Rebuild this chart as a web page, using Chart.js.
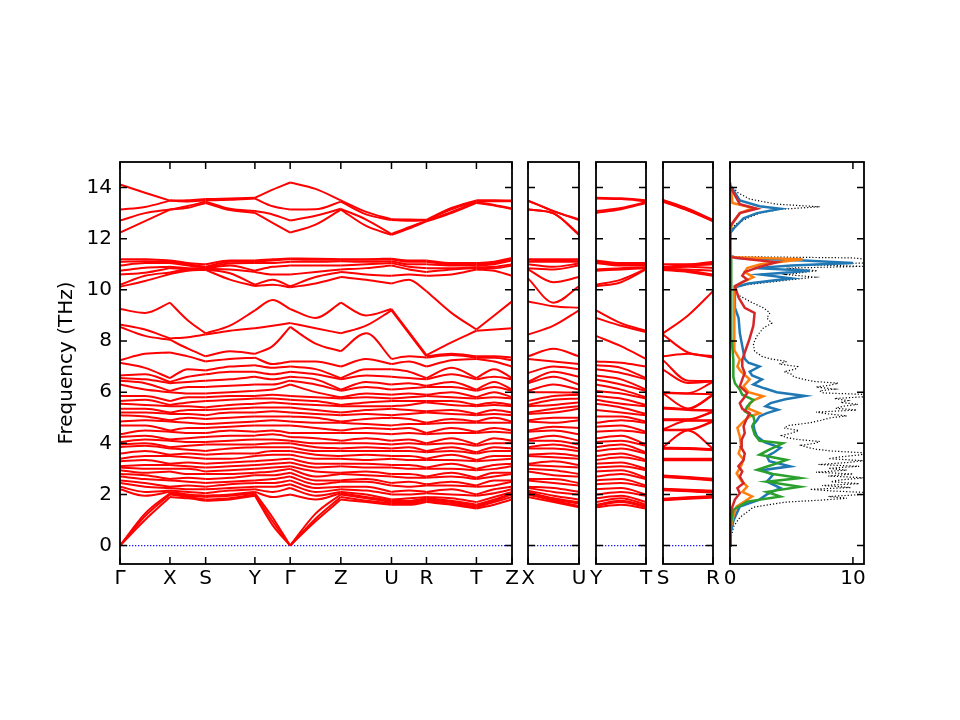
<!DOCTYPE html>
<html lang="en">
<head>
<meta charset="UTF-8">
<title>Phonon bands and DOS</title>
<style>
  body { margin: 0; background: #fff; }
  #wrap { position: relative; width: 960px; height: 720px; }
  #wrap canvas { position: absolute; left: 0; top: 0; }
</style>
</head>
<body>
<div id="wrap">
  <canvas id="main" width="960" height="720"></canvas>
  <canvas id="xu" width="960" height="720"></canvas>
  <canvas id="yt" width="960" height="720"></canvas>
  <canvas id="sr" width="960" height="720"></canvas>
  <canvas id="dos" width="960" height="720"></canvas>
</div>
<script src="https://cdn.jsdelivr.net/npm/chart.js"></script>
<script>
// ---- data ----
const freqTicks = [0, 2, 4, 6, 8, 10, 12, 14];

// main path: Γ-X-S-Y-Γ-Z-U-R-T-Z
const mainLabels = ['Γ', 'X', 'S', 'Y', 'Γ', 'Z', 'U', 'R', 'T', 'Z'];
const mainLabelPos = [0, 0.5, 0.857, 1.35, 1.703, 2.21, 2.717, 3.067, 3.567, 3.923];
// k samples: each high-symmetry point and the middle of each branch
const mainK = [0, 0.25, 0.5, 0.68, 0.857, 1.10, 1.35, 1.527, 1.703, 1.957, 2.21, 2.463, 2.717, 2.892, 3.067, 3.317, 3.567, 3.745, 3.923];

// frequencies (THz) read at each k sample, 48 modes per sample
const mainBands = [
  // Γ
  [0, 0, 0, 2.2, 2.3, 2.45, 2.55, 2.7, 2.8, 2.95, 3.05, 3.1, 3.3, 3.4, 3.6, 3.85, 3.95, 4.05, 4.25, 4.35,
   4.7, 4.85, 5.1, 5.2, 5.35, 5.55, 5.65, 5.85, 6.3, 6.45, 6.55, 6.65, 7.15, 7.25,
   8.55, 8.65, 9.25, 10.12, 10.2, 10.6, 10.75, 10.95, 11.1, 11.2, 12.24, 12.71, 13.14, 14.12],
  [1.0, 1.15, 1.25, 1.95, 2.1, 2.3, 2.45, 2.6, 2.75, 2.85, 3.0, 3.15, 3.35, 3.5, 3.7, 3.9, 4.0, 4.15, 4.3, 4.5,
   4.7, 4.9, 5.05, 5.2, 5.35, 5.5, 5.7, 5.85, 6.1, 6.35, 6.5, 6.7, 6.95, 7.5,
   8.2, 8.45, 9.1, 10.35, 10.55, 10.67, 10.86, 11.05, 11.12, 11.2, 12.69, 13.0, 13.24, 13.8],
  // X
  [1.9, 2.0, 2.05, 2.1, 2.15, 2.25, 2.3, 2.55, 2.6, 2.9, 3.0, 3.15, 3.2, 3.5, 3.55, 3.8, 3.85, 4.1, 4.15, 4.45,
   4.5, 4.85, 4.9, 5.15, 5.2, 5.45, 5.5, 5.65, 6.0, 6.05, 6.35, 6.4, 6.55, 7.55,
   8.05, 8.1, 9.5, 10.62, 10.68, 10.85, 10.9, 11.05, 11.1, 11.15, 13.14, 13.14, 13.49, 13.49],
  [1.85, 1.9, 1.95, 2.0, 2.1, 2.2, 2.35, 2.5, 2.65, 2.8, 3.0, 3.1, 3.25, 3.45, 3.6, 3.75, 3.9, 4.05, 4.2, 4.4,
   4.6, 4.8, 5.0, 5.15, 5.3, 5.45, 5.6, 5.8, 5.95, 6.2, 6.4, 6.6, 6.9, 7.4,
   7.7, 8.15, 8.8, 10.75, 10.8, 10.82, 10.85, 10.95, 11.0, 11.05, 13.21, 13.28, 13.46, 13.5],
  // S
  [1.75, 1.8, 1.9, 1.95, 2.05, 2.2, 2.3, 2.45, 2.6, 2.8, 2.9, 3.05, 3.2, 3.4, 3.55, 3.7, 3.95, 4.05, 4.25, 4.4,
   4.6, 4.75, 4.95, 5.1, 5.3, 5.4, 5.65, 5.8, 5.95, 6.2, 6.45, 6.7, 6.85, 7.2,
   7.4, 8.25, 8.3, 10.78, 10.8, 10.82, 10.84, 10.86, 10.9, 11.0, 13.4, 13.45, 13.5, 13.55],
  [1.8, 1.85, 1.95, 2.0, 2.15, 2.25, 2.4, 2.5, 2.65, 2.8, 2.95, 3.1, 3.25, 3.4, 3.6, 3.8, 3.95, 4.1, 4.3, 4.5,
   4.65, 4.8, 5.0, 5.2, 5.35, 5.5, 5.7, 5.85, 6.0, 6.25, 6.5, 6.8, 7.0, 7.3,
   7.6, 8.4, 8.6, 10.4, 10.65, 10.8, 10.95, 11.03, 11.1, 11.15, 13.12, 13.17, 13.52, 13.57],
  // Y
  [1.95, 2.0, 2.05, 2.1, 2.2, 2.3, 2.45, 2.55, 2.75, 2.85, 3.0, 3.15, 3.3, 3.5, 3.6, 3.85, 3.95, 4.15, 4.3, 4.45,
   4.7, 4.85, 5.05, 5.2, 5.4, 5.55, 5.75, 5.85, 6.05, 6.3, 6.6, 6.8, 7.05, 7.35,
   7.5, 8.5, 9.2, 10.15, 10.2, 10.7, 10.75, 11.05, 11.1, 11.15, 13.01, 13.08, 13.57, 13.6],
  [0.8, 0.95, 1.1, 1.9, 2.1, 2.3, 2.45, 2.6, 2.75, 2.9, 3.05, 3.2, 3.35, 3.55, 3.7, 3.85, 4.0, 4.15, 4.35, 4.5,
   4.7, 4.9, 5.05, 5.25, 5.4, 5.6, 5.75, 5.9, 6.1, 6.3, 6.5, 6.7, 6.95, 7.1,
   7.8, 8.6, 9.6, 10.2, 10.4, 10.6, 10.9, 11.05, 11.15, 11.2, 12.62, 12.95, 13.27, 13.92],
  // Γ
  [0, 0, 0, 2.0, 2.25, 2.4, 2.55, 2.7, 2.85, 3.0, 3.1, 3.25, 3.4, 3.55, 3.7, 3.85, 4.0, 4.1, 4.25, 4.4,
   4.7, 4.85, 5.05, 5.2, 5.4, 5.55, 5.7, 5.85, 6.3, 6.45, 6.6, 6.8, 7.0, 7.2,
   8.55, 8.7, 9.25, 10.1, 10.14, 10.6, 10.95, 11.1, 11.2, 11.23, 12.24, 12.71, 13.14, 14.2],
  [0.95, 1.05, 1.25, 1.8, 1.95, 2.1, 2.25, 2.4, 2.55, 2.7, 2.9, 3.05, 3.2, 3.4, 3.55, 3.7, 3.85, 4.0, 4.2, 4.4,
   4.6, 4.8, 5.0, 5.15, 5.3, 5.5, 5.65, 5.8, 6.0, 6.3, 6.5, 6.7, 6.9, 7.2,
   7.9, 8.5, 8.9, 10.25, 10.5, 10.7, 10.95, 11.1, 11.18, 11.22, 12.55, 12.9, 13.15, 13.95],
  // Z
  [1.8, 1.9, 2.0, 2.05, 2.1, 2.2, 2.3, 2.5, 2.55, 2.8, 2.85, 3.1, 3.2, 3.4, 3.5, 3.7, 3.8, 4.0, 4.1, 4.4,
   4.5, 4.8, 4.85, 5.1, 5.2, 5.45, 5.5, 5.75, 5.8, 6.05, 6.1, 6.5, 6.55, 7.0,
   7.6, 8.3, 9.5, 10.5, 10.7, 10.8, 10.95, 11.12, 11.18, 11.2, 13.14, 13.17, 13.45, 13.5],
  [1.7, 1.75, 1.85, 1.9, 2.0, 2.15, 2.3, 2.5, 2.6, 2.75, 2.9, 3.05, 3.2, 3.35, 3.55, 3.7, 3.85, 4.0, 4.2, 4.4,
   4.6, 4.75, 4.95, 5.15, 5.3, 5.45, 5.6, 5.8, 5.95, 6.2, 6.4, 6.65, 6.9, 7.3,
   8.3, 8.6, 9.0, 10.4, 10.6, 10.85, 11.0, 11.1, 11.18, 11.2, 12.5, 12.75, 12.95, 13.05],
  // U
  [1.6, 1.65, 1.7, 1.75, 1.8, 2.0, 2.1, 2.35, 2.45, 2.7, 2.8, 3.05, 3.15, 3.4, 3.5, 3.7, 3.8, 3.95, 4.1, 4.35,
   4.55, 4.7, 5.0, 5.1, 5.35, 5.45, 5.65, 5.75, 5.9, 6.1, 6.3, 6.6, 6.9, 7.1,
   7.3, 9.2, 9.25, 10.25, 10.55, 10.95, 11.05, 11.12, 11.2, 11.22, 12.15, 12.18, 12.73, 12.76],
  [1.6, 1.65, 1.7, 1.75, 1.85, 2.0, 2.15, 2.3, 2.5, 2.65, 2.8, 3.0, 3.15, 3.35, 3.5, 3.7, 3.85, 4.0, 4.15, 4.4,
   4.6, 4.75, 4.95, 5.15, 5.3, 5.5, 5.65, 5.8, 5.95, 6.15, 6.35, 6.55, 6.8, 7.2,
   7.4, 8.3, 8.35, 10.4, 10.6, 10.8, 10.9, 11.0, 11.1, 11.15, 12.4, 12.45, 12.7, 12.75],
  // R
  [1.7, 1.75, 1.8, 1.85, 1.9, 2.05, 2.1, 2.35, 2.4, 2.65, 2.7, 3.0, 3.05, 3.35, 3.4, 3.65, 3.7, 3.95, 4.0, 4.35,
   4.4, 4.75, 4.8, 5.2, 5.25, 5.6, 5.65, 5.85, 5.9, 6.2, 6.25, 6.5, 6.55, 7.0,
   7.35, 7.4, 7.45, 9.95, 10.55, 10.7, 10.85, 11.0, 11.1, 11.15, 12.68, 12.7, 12.72, 12.74],
  [1.6, 1.65, 1.7, 1.75, 1.85, 2.0, 2.2, 2.35, 2.5, 2.7, 2.85, 3.0, 3.2, 3.35, 3.55, 3.7, 3.85, 4.0, 4.2, 4.4,
   4.6, 4.8, 4.95, 5.15, 5.3, 5.5, 5.65, 5.8, 6.0, 6.2, 6.4, 6.7, 6.95, 7.25,
   7.45, 7.5, 7.95, 9.1, 10.6, 10.8, 10.85, 10.95, 11.0, 11.05, 13.0, 13.05, 13.15, 13.2],
  // T
  [1.45, 1.5, 1.55, 1.6, 1.7, 1.95, 2.0, 2.3, 2.35, 2.6, 2.65, 2.95, 3.0, 3.3, 3.35, 3.6, 3.65, 3.9, 3.95, 4.4,
   4.45, 4.8, 4.85, 5.1, 5.15, 5.45, 5.5, 5.75, 5.8, 6.05, 6.1, 6.5, 6.55, 7.3,
   7.35, 7.4, 8.4, 8.45, 10.8, 10.85, 10.88, 10.95, 11.0, 11.05, 13.4, 13.43, 13.47, 13.5],
  [1.6, 1.7, 1.75, 1.8, 1.9, 2.05, 2.2, 2.35, 2.55, 2.7, 2.85, 3.0, 3.15, 3.35, 3.5, 3.7, 3.85, 4.0, 4.2, 4.45,
   4.6, 4.8, 5.0, 5.15, 5.3, 5.5, 5.6, 5.8, 6.0, 6.2, 6.4, 6.6, 6.9, 7.2,
   7.35, 7.4, 8.45, 9.0, 10.75, 10.85, 10.9, 11.0, 11.05, 11.1, 13.3, 13.32, 13.47, 13.5],
  // Z
  [1.8, 1.9, 2.0, 2.05, 2.1, 2.2, 2.3, 2.5, 2.55, 2.8, 2.85, 3.1, 3.2, 3.4, 3.5, 3.7, 3.8, 4.0, 4.1, 4.4,
   4.5, 4.8, 4.85, 5.1, 5.2, 5.45, 5.5, 5.75, 5.8, 6.05, 6.1, 6.5, 6.55, 7.0,
   7.25, 7.35, 8.5, 9.55, 10.55, 10.95, 11.0, 11.15, 11.2, 11.25, 13.16, 13.18, 13.47, 13.49]
];
// slice indices of the high-symmetry points (branch ends)
const mainNodes = [0, 2, 4, 6, 8, 10, 12, 14, 16, 18];

// short branches, sampled at start / middle / end
const sideK = [0, 0.5, 1];
const sideNodes = [0, 2];
const xuBands = [
  // X
  [1.9, 2.0, 2.05, 2.1, 2.15, 2.25, 2.3, 2.55, 2.6, 2.9, 3.0, 3.15, 3.2, 3.5, 3.55, 3.8, 3.85, 4.1, 4.15, 4.45,
   4.5, 4.85, 4.9, 5.15, 5.2, 5.45, 5.5, 5.65, 6.0, 6.05, 6.35, 6.4, 6.75, 7.3,
   7.4, 8.25, 9.55, 10.45, 10.8, 10.85, 11.0, 11.1, 11.18, 11.2, 13.14, 13.14, 13.49, 13.49],
  [1.7, 1.75, 1.8, 1.85, 1.95, 2.1, 2.25, 2.45, 2.6, 2.75, 2.95, 3.1, 3.3, 3.45, 3.6, 3.8, 3.95, 4.1, 4.3, 4.5,
   4.65, 4.8, 5.0, 5.2, 5.35, 5.5, 5.7, 5.85, 6.0, 6.3, 6.6, 6.8, 7.0, 7.2,
   7.7, 8.6, 9.36, 9.5, 10.3, 10.8, 10.9, 11.1, 11.15, 11.2, 12.99, 12.99, 13.08, 13.08],
  // U
  [1.5, 1.55, 1.65, 1.7, 1.8, 2.0, 2.1, 2.35, 2.45, 2.7, 2.8, 3.05, 3.15, 3.4, 3.5, 3.7, 3.8, 3.95, 4.1, 4.35,
   4.6, 4.9, 5.0, 5.35, 5.45, 5.6, 5.75, 5.9, 5.97, 6.1, 6.3, 6.6, 6.9, 7.1,
   7.4, 9.2, 9.3, 10.14, 10.5, 10.95, 11.03, 11.1, 11.18, 11.2, 12.15, 12.18, 12.73, 12.76]
];
const ytBands = [
  // Y
  [1.5, 1.55, 1.6, 1.7, 1.85, 2.0, 2.2, 2.4, 2.55, 2.7, 2.9, 3.05, 3.2, 3.35, 3.5, 3.7, 3.85, 4.05, 4.2, 4.45,
   4.65, 4.8, 5.05, 5.3, 5.55, 5.7, 5.85, 6.05, 6.3, 6.5, 6.65, 6.9, 7.05, 7.2,
   8.2, 8.9, 9.2, 10.14, 10.2, 10.75, 10.8, 11.05, 11.1, 11.15, 13.01, 13.08, 13.57, 13.6],
  [1.6, 1.7, 1.75, 1.85, 1.95, 2.1, 2.25, 2.45, 2.6, 2.8, 2.95, 3.1, 3.25, 3.45, 3.6, 3.8, 3.95, 4.1, 4.3, 4.5,
   4.7, 4.9, 5.05, 5.2, 5.4, 5.55, 5.75, 5.95, 6.1, 6.3, 6.5, 6.75, 6.95, 7.15,
   7.8, 8.6, 8.7, 10.3, 10.4, 10.8, 10.85, 10.95, 11.0, 11.05, 13.15, 13.2, 13.55, 13.58],
  // T
  [1.45, 1.5, 1.55, 1.6, 1.7, 1.95, 2.0, 2.3, 2.35, 2.6, 2.65, 2.95, 3.0, 3.3, 3.35, 3.6, 3.65, 3.9, 3.95, 4.4,
   4.45, 4.8, 4.85, 5.1, 5.15, 5.45, 5.5, 5.75, 5.8, 6.05, 6.1, 6.5, 6.55, 7.0,
   7.3, 8.35, 8.4, 10.8, 10.82, 10.85, 10.88, 10.95, 11.0, 11.05, 13.4, 13.43, 13.47, 13.5]
];
const srBands = [
  // S
  [1.77, 1.79, 1.81, 1.83, 2.16, 2.18, 2.2, 2.22, 2.68, 2.7, 2.72, 2.74, 3.34, 3.36, 3.38, 3.4, 3.79, 3.81, 3.83, 3.85,
   4.51, 4.53, 4.55, 4.9, 4.92, 4.94, 5.36, 5.38, 5.4, 5.95, 5.97, 5.99, 6.88, 7.25,
   7.4, 8.25, 8.3, 10.78, 10.8, 10.82, 10.84, 10.86, 10.9, 11.0, 13.45, 13.47, 13.5, 13.52],
  [1.83, 1.85, 1.87, 1.89, 2.12, 2.14, 2.16, 2.18, 2.62, 2.64, 2.66, 2.68, 3.34, 3.36, 3.38, 3.4, 3.78, 3.8, 3.82, 4.5,
   4.52, 4.54, 4.88, 4.9, 4.92, 4.94, 5.3, 5.32, 5.34, 5.36, 5.94, 5.96, 6.36, 6.45,
   7.5, 7.55, 9.0, 10.7, 10.75, 10.8, 10.9, 10.95, 10.98, 11.0, 13.1, 13.12, 13.15, 13.17],
  // R
  [1.88, 1.9, 1.92, 1.94, 2.08, 2.1, 2.12, 2.14, 2.55, 2.57, 2.59, 2.61, 3.34, 3.36, 3.38, 3.4, 3.73, 3.75, 3.77, 3.79,
   4.84, 4.86, 4.88, 4.9, 5.23, 5.25, 5.27, 5.29, 5.88, 5.9, 5.92, 6.4, 6.42, 6.44,
   7.35, 7.4, 9.95, 10.55, 10.6, 10.75, 10.85, 11.0, 11.05, 11.1, 12.68, 12.7, 12.72, 12.74]
];

// density of states against frequency (THz)
const totalDosFreq = [0, 0.35, 0.75, 1.1, 1.5, 1.7, 1.78, 1.85, 1.92, 2.0, 2.07, 2.13, 2.2, 2.27, 2.35, 2.42, 2.5, 2.57, 2.65, 2.72,
  2.8, 2.87, 2.95, 3.02, 3.1, 3.17, 3.25, 3.32, 3.4, 3.47, 3.55, 3.62, 3.7, 3.77, 3.85, 3.92, 4.0, 4.07, 4.15, 4.22,
  4.3, 4.4, 4.5, 4.6, 4.7, 4.8, 4.9, 5.0, 5.07, 5.15, 5.22, 5.3, 5.37, 5.45, 5.52, 5.6, 5.67, 5.75, 5.82, 5.9,
  5.97, 6.05, 6.12, 6.2, 6.27, 6.35, 6.42, 6.5, 6.6, 6.7, 6.8, 6.9, 7.0, 7.1, 7.2, 7.3, 7.4, 7.6, 7.9, 8.2,
  8.5, 8.7, 8.9, 9.1, 9.3, 9.5, 9.8, 10.1, 10.2, 10.35, 10.5, 10.6, 10.75, 10.85, 10.92, 10.98, 11.05, 11.15, 11.25, 11.3,
  12.2, 12.3, 12.55, 12.8, 13.0, 13.15, 13.25, 13.35, 13.55, 13.8, 14.1, 14.3];
const totalDos = [0, 0.1, 0.3, 0.8, 1.9, 4.5, 7.5, 9.5, 8.0, 10.9, 11.5, 8.5, 6.5, 9.8, 7.5, 10.5, 8.2, 9.0, 11.0, 8.0,
  10.0, 7.0, 9.5, 8.0, 10.5, 7.2, 9.6, 10.8, 8.0, 9.0, 10.6, 11.2, 8.2, 7.0, 6.2, 5.8, 6.9, 7.3, 5.5, 4.6,
  4.2, 5.0, 5.6, 4.4, 4.8, 6.5, 7.4, 8.2, 9.5, 8.0, 7.0, 10.3, 8.6, 9.2, 10.4, 9.0, 9.6, 8.5, 10.9, 11.5,
  7.6, 7.3, 8.5, 7.0, 8.1, 8.8, 6.8, 6.0, 5.2, 5.0, 4.4, 5.3, 5.5, 4.0, 4.6, 3.3, 2.6, 2.0, 1.9, 2.2,
  2.7, 3.4, 3.0, 3.25, 2.7, 1.8, 0.65, 0.3, 1.4, 4.1, 6.9, 4.6, 7.1, 4.6, 10.8, 6.5, 10.8, 12, 10, 0,
  0, 0.1, 0.4, 1.4, 2.4, 4.1, 7.3, 3.8, 1.6, 0.65, 0.05, 0];

const pdos1Freq = [0, 0.5, 1.0, 1.53, 1.8, 2.0, 2.25, 2.5, 2.77, 2.95, 3.1, 3.3, 3.49, 3.65, 3.82, 4.05, 4.27, 4.5, 4.73, 4.9,
  5.05, 5.18, 5.31, 5.45, 5.57, 5.72, 5.85, 6.0, 6.15, 6.3, 6.5, 6.65, 6.8, 7.0, 7.15, 7.3, 7.8, 8.3, 8.9, 9.3,
  10.1, 10.25, 10.45, 10.6, 10.75, 10.85, 10.95, 11.05, 11.15, 11.25, 11.35, 12.2, 12.4, 12.8, 13.0, 13.17, 13.27, 13.5, 14.1];
const pdos1 = [0, 0.05, 0.3, 0.8, 2.4, 3.0, 4.1, 3.0, 3.5, 2.6, 4.9, 3.2, 3.0, 3.6, 4.1, 2.8, 2.2, 2.0, 1.9, 2.2,
  2.4, 3.0, 3.9, 2.9, 3.3, 4.5, 6.1, 3.8, 2.8, 1.9, 2.6, 1.8, 1.6, 2.4, 1.5, 1.2, 1.0, 0.8, 0.7, 0.4,
  0.4, 1.5, 5.0, 2.5, 6.5, 2.0, 5.0, 10.0, 6.0, 0.5, 0, 0, 0.3, 1.1, 2.2, 4.1, 2.4, 0.8, 0];

const pdos2Freq = [0, 0.7, 1.14, 1.53, 1.92, 2.1, 2.31, 2.55, 2.83, 3.1, 3.36, 3.6, 3.9, 4.27, 4.6, 4.86, 5.05, 5.18, 5.35, 5.57,
  5.7, 5.84, 6.0, 6.23, 6.5, 6.8, 7.0, 7.27, 7.6, 8.5, 9.5, 10.1, 10.25, 10.5, 10.7, 10.85, 11.0, 11.2, 11.28, 11.35,
  12.3, 12.6, 13.0, 13.2, 13.4, 14.05, 14.2];
const pdos2 = [0, 0.05, 0.27, 0.54, 1.8, 1.0, 1.4, 0.9, 0.54, 0.9, 1.1, 0.7, 0.9, 0.8, 0.6, 1.1, 1.6, 2.4, 1.5, 1.6,
  2.0, 2.7, 1.5, 1.1, 1.6, 0.9, 0.6, 0.8, 0.4, 0.35, 0.35, 0.35, 0.8, 1.9, 1.2, 1.4, 2.5, 5.9, 0.2, 0,
  0, 0.2, 0.8, 1.9, 0.2, 0.05, 0];

const pdos3Freq = [0, 0.8, 1.4, 1.72, 1.92, 2.1, 2.3, 2.5, 2.64, 2.8, 2.96, 3.15, 3.35, 3.55, 3.75, 4.0, 4.1, 4.35, 4.66, 4.85,
  5.05, 5.25, 5.44, 5.7, 5.9, 6.1, 6.35, 6.6, 7.27, 8.0, 10.0, 11.2, 11.3];
const pdos3 = [0, 0.05, 0.27, 1.4, 4.1, 3.0, 5.7, 3.0, 5.7, 3.5, 2.2, 3.4, 4.6, 2.4, 3.2, 4.3, 2.4, 2.0, 1.8, 2.0,
  1.9, 1.2, 1.4, 1.9, 1.0, 0.8, 0.4, 0.27, 0.27, 0.15, 0.1, 0.1, 0];

const pdos4Freq = [0, 1.0, 1.4, 1.8, 2.05, 2.25, 2.44, 2.7, 2.9, 3.1, 3.35, 3.6, 3.85, 4.14, 4.4, 4.66, 4.9, 5.18, 5.35, 5.57,
  5.75, 5.97, 6.23, 6.5, 6.75, 7.0, 7.27, 7.55, 8.1, 8.6, 9.1, 9.3, 9.7, 10.15, 10.4, 10.55, 10.7, 10.9, 11.08, 11.2,
  11.28, 11.35, 12.4, 12.5, 13.0, 13.17, 13.35, 14.0, 14.2];
const pdos4 = [0, 0.03, 0.1, 0.4, 0.8, 0.6, 1.1, 0.8, 1.0, 0.68, 1.1, 1.2, 0.9, 0.95, 1.2, 1.1, 1.3, 1.6, 1.0, 0.8,
  1.1, 1.4, 0.8, 1.0, 1.2, 1.0, 1.0, 1.2, 1.6, 1.9, 2.0, 1.2, 0.7, 0.4, 1.4, 1.0, 1.2, 2.4, 3.8, 1.5,
  0.1, 0, 0, 0.05, 0.8, 2.2, 0.8, 0.05, 0];

// ---- drawing ----
Chart.defaults.font.family = "'DejaVu Sans', sans-serif";
Chart.defaults.font.size = 20;
Chart.defaults.color = '#000';

const FMIN = -0.72, FMAX = 15.0;

// black frame with inward ticks on all four sides
const frameTicks = {
  id: 'frameTicks',
  afterDraw(chart, args, opts) {
    const { ctx, chartArea: a, scales: { x, y } } = chart;
    ctx.save();
    ctx.strokeStyle = '#000';
    ctx.lineWidth = 1.5;
    ctx.beginPath();
    opts.xTicks.forEach(v => {
      const px = x.getPixelForValue(v);
      ctx.moveTo(px, a.bottom); ctx.lineTo(px, a.bottom - 7);
      ctx.moveTo(px, a.top); ctx.lineTo(px, a.top + 7);
    });
    opts.yTicks.forEach(v => {
      const py = y.getPixelForValue(v);
      ctx.moveTo(a.left, py); ctx.lineTo(a.left + 7, py);
      ctx.moveTo(a.right, py); ctx.lineTo(a.right - 7, py);
    });
    ctx.stroke();
    ctx.lineWidth = 1.8;
    ctx.strokeRect(a.left, a.top, a.right - a.left, a.bottom - a.top);
    ctx.restore();
  }
};

function xScale(min, max, pos, labels) {
  return {
    type: 'linear', min: min, max: max,
    afterBuildTicks: s => { s.ticks = pos.map(v => ({ value: v })); },
    afterFit: s => { s.height = 40; },
    ticks: { autoSkip: false, maxRotation: 0, minRotation: 0, padding: 3,
             callback: (v, i) => labels[i] },
    grid: { display: false, drawTicks: false },
    border: { display: false }
  };
}

function yScale(show) {
  const s = {
    type: 'linear', min: FMIN, max: FMAX, display: show,
    afterBuildTicks: sc => { sc.ticks = freqTicks.map(v => ({ value: v })); },
    grid: { display: false, drawTicks: false },
    border: { display: false },
    ticks: { padding: 8 }
  };
  if (show) {
    s.afterFit = sc => { sc.width = 120; };
    s.title = { display: true, text: 'Frequency (THz)', padding: { top: 55, bottom: 0 } };
  }
  return s;
}

// one line per mode per branch; modes are ordered by frequency within a branch
function bandSets(kPos, slices, nodes) {
  const sets = [];
  for (let s = 0; s < nodes.length - 1; s++) {
    const idx = [];
    for (let i = nodes[s]; i <= nodes[s + 1]; i++) idx.push(i);
    const sorted = idx.map(i => [...slices[i]].sort((a, b) => a - b));
    const n = Math.min(...sorted.map(r => r.length));
    for (let b = 0; b < n; b++) {
      sets.push({
        data: idx.map((i, j) => ({ x: kPos[i], y: sorted[j][b] })),
        borderColor: '#ff0000', borderWidth: 2, pointRadius: 0,
        showLine: true, cubicInterpolationMode: 'monotone'
      });
    }
  }
  sets.push({
    data: [{ x: kPos[0], y: 0 }, { x: kPos[kPos.length - 1], y: 0 }],
    borderColor: 'rgb(20,20,255)', borderWidth: 1.3, borderDash: [1.3, 1.7],
    pointRadius: 0, showLine: true
  });
  return sets;
}

function dosSet(freq, vals, color, width, dash) {
  return {
    data: freq.map((f, i) => ({ x: vals[i], y: f })),
    borderColor: color, borderWidth: width, borderDash: dash || [],
    pointRadius: 0, showLine: true
  };
}

function makeChart(id, pad, datasets, xs, showY, xTickVals) {
  return new Chart(document.getElementById(id), {
    type: 'scatter',
    data: { datasets: datasets },
    options: {
      responsive: false, animation: false, events: [],
      layout: { padding: pad },
      plugins: {
        legend: { display: false }, tooltip: { enabled: false },
        frameTicks: { xTicks: xTickVals, yTicks: freqTicks }
      },
      scales: { x: xs, y: yScale(showY) }
    },
    plugins: [frameTicks]
  });
}

makeChart('main', { left: 0, top: 162, right: 448, bottom: 116 },
  bandSets(mainK, mainBands, mainNodes),
  xScale(0, mainK[mainK.length - 1], mainLabelPos, mainLabels), true, mainLabelPos);

makeChart('xu', { left: 528, top: 162, right: 381, bottom: 116 },
  bandSets(sideK, xuBands, sideNodes), xScale(0, 1, [0, 1], ['X', 'U']), false, [0, 1]);

makeChart('yt', { left: 596, top: 162, right: 314, bottom: 116 },
  bandSets(sideK, ytBands, sideNodes), xScale(0, 1, [0, 1], ['Y', 'T']), false, [0, 1]);

makeChart('sr', { left: 663, top: 162, right: 247, bottom: 116 },
  bandSets(sideK, srBands, sideNodes), xScale(0, 1, [0, 1], ['S', 'R']), false, [0, 1]);

makeChart('dos', { left: 730, top: 162, right: 96, bottom: 116 },
  [
    dosSet(pdos4Freq, pdos4, '#d62728', 2.5),
    dosSet(pdos3Freq, pdos3, '#2ca02c', 2.5),
    dosSet(pdos2Freq, pdos2, '#ff7f0e', 2.5),
    dosSet(pdos1Freq, pdos1, '#1f77b4', 2.5),
    dosSet(totalDosFreq, totalDos, '#000000', 1.2, [1.2, 2])
  ],
  xScale(0, 10.9, [0, 10], ['0', '10']), false, [0, 10]);
</script>
</body>
</html>
